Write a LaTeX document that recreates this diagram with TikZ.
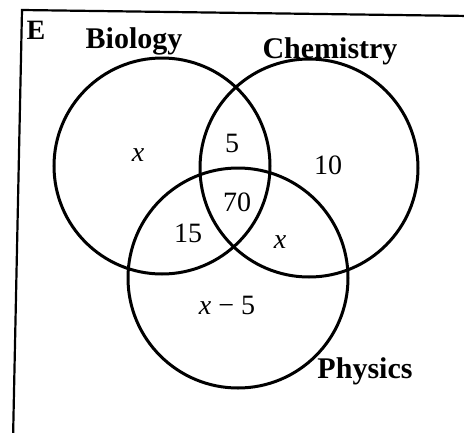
\documentclass[tikz,border=0pt]{standalone}
\usepackage{fontspec}
\setmainfont{Liberation Serif}
\begin{document}
\begin{tikzpicture}[x=1pt,y=-1pt,
  setcircle/.style={draw=black,line width=3pt,circle,inner sep=0pt,minimum size=#1},
  setlabel/.style={font=\fontsize{30}{30}\selectfont\bfseries,anchor=base,inner sep=0pt},
  region/.style={font=\fontsize{28}{28}\selectfont,inner sep=0pt}]
\useasboundingbox (0,0) rectangle (464,432);
% universal set frame
\coordinate (fbl) at (13,440);
\coordinate (ftl) at (22,10);
\coordinate (ftr) at (470,16);
\draw[line width=2.2pt] (fbl) -- (ftl) -- (ftr);
\node[font=\fontsize{28}{28}\selectfont\bfseries,inner sep=0pt] (E) at (36,30) {E};
% circles
\node[setcircle=216pt] (bio) at (162,166) {};
\node[setcircle=218pt] (chem) at (309,168) {};
\node[setcircle=220pt] (phys) at (238,278) {};
% set labels
\node[setlabel] (lbio) at (134,48) {Biology};
\node[setlabel] (lchem) at (330,58) {Chemistry};
\node[setlabel] (lphys) at (365,378) {Physics};
% region values
\node[region] (r1) at (138,155) {\textit{x}};
\node[region] (r2) at (232,143) {5};
\node[region] (r3) at (328,165) {10};
\node[region] (r4) at (237,202) {70};
\node[region] (r5) at (188,233) {15};
\node[region] (r6) at (280,242) {\textit{x}};
\node[region] (r7) at (227,305) {\textit{x} − 5};
\end{tikzpicture}
\end{document}
